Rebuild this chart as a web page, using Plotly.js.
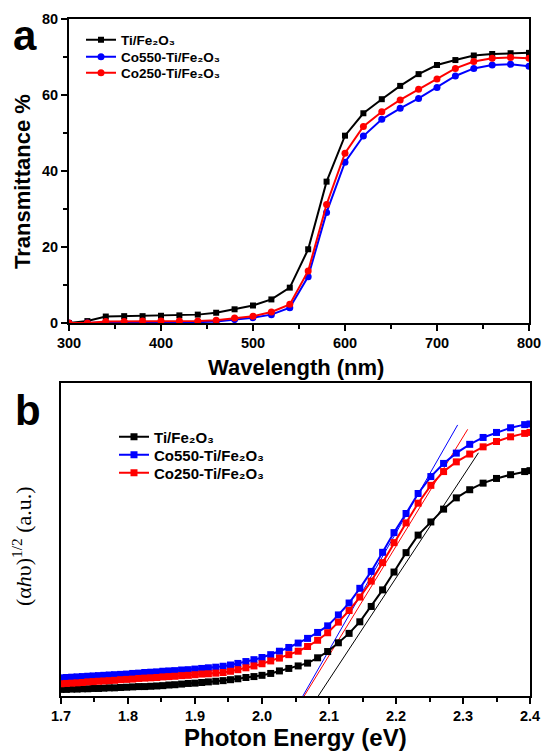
<!DOCTYPE html>
<html><head><meta charset="utf-8">
<script src="https://cdn.plot.ly/plotly-3.0.1.min.js"></script>
<style>html,body{margin:0;padding:0;background:#fff}#c{width:544px;height:752px}</style>
</head><body><div id="c"></div>
<script>
// Panel a: transmittance spectra
const wavelength = [300,320,340,360,380,400,420,440,460,480,500,520,540,560,580,600,620,640,660,680,700,720,740,760,780,800];
const transTi    = [0,0.5,1.7,1.8,1.8,1.9,2.0,2.2,2.7,3.6,4.6,6.2,9.3,19.4,37.2,49.3,55.2,58.9,62.4,65.5,67.9,69.2,70.4,70.8,71.0,71.1];
const transCo550 = [0,0,0.2,0.2,0.2,0.2,0.2,0.2,0.4,0.9,1.4,2.2,4.0,12.2,29.1,42.3,49.2,53.6,56.5,59.1,62.0,65.0,67.0,67.9,68.1,67.6];
const transCo250 = [0,0,0.4,0.4,0.5,0.5,0.5,0.5,0.7,1.3,1.8,2.9,4.9,13.7,31.2,44.7,51.7,55.6,58.7,61.5,64.2,67.0,68.8,69.7,69.9,69.7];

// Panel b: Tauc plot
const energy = [1.700,1.708,1.716,1.724,1.732,1.740,1.748,1.756,1.764,1.772,1.780,1.789,1.798,1.807,1.816,1.825,1.834,1.843,1.852,1.861,1.870,1.880,1.890,1.900,1.910,1.920,1.931,1.942,1.953,1.964,1.976,1.988,2.000,2.013,2.026,2.040,2.054,2.068,2.083,2.098,2.114,2.130,2.146,2.163,2.180,2.197,2.215,2.233,2.252,2.271,2.290,2.310,2.330,2.350,2.371,2.392,2.400];
const taucTi = [2.1,2.1,2.2,2.2,2.3,2.3,2.4,2.4,2.5,2.6,2.6,2.7,2.8,2.9,3.0,3.0,3.1,3.2,3.3,3.5,3.6,3.8,4.0,4.1,4.3,4.5,4.7,4.9,5.2,5.5,5.9,6.2,6.6,7.2,8.0,8.8,9.6,10.5,12.2,14.2,17.0,20.0,23.7,28.6,33.9,39.6,45.8,51.4,55.6,59.7,63.3,65.9,68.0,69.5,70.7,71.7,72.0];
const taucCo550 = [5.8,5.9,6.0,6.1,6.2,6.3,6.4,6.5,6.6,6.7,6.8,6.9,7.0,7.2,7.3,7.5,7.6,7.7,7.9,8.0,8.1,8.3,8.4,8.6,8.8,9.0,9.2,9.5,9.9,10.4,11.0,11.6,12.3,13.2,14.3,15.5,16.9,18.4,20.3,22.4,25.9,29.7,34.4,39.8,45.9,52.2,58.3,64.7,70.1,74.3,77.6,80.4,82.6,84.2,85.7,86.7,86.9];
const taucCo250 = [3.9,4.0,4.1,4.2,4.3,4.5,4.6,4.7,4.8,4.9,5.0,5.2,5.3,5.4,5.6,5.7,5.8,5.9,6.1,6.2,6.3,6.5,6.6,6.8,7.0,7.1,7.3,7.5,7.9,8.4,9.0,9.6,10.3,11.2,12.1,13.2,14.3,15.8,17.8,20.2,23.6,27.3,31.6,36.7,42.6,49.0,55.3,61.6,67.3,71.7,74.8,77.3,79.6,81.3,82.8,83.9,84.2];
// Tangent (band-gap extrapolation) lines: endpoints
const fitTiX = [2.084,2.323],    fitTiY = [0,77.7];
const fitCo550X = [2.061,2.292], fitCo550Y = [0,86.6];
const fitCo250X = [2.063,2.307], fitCo250Y = [0,85.2];

const names = ['Ti/Fe₂O₃','Co550-Ti/Fe₂O₃','Co250-Ti/Fe₂O₃'];
const BLACK='#000000', BLUE='#0000ff', RED='#ff0000';
const F = 'Arial, "Liberation Sans", sans-serif';

const traces = [
  {x:wavelength,y:transTi,name:names[0],mode:'lines+markers',line:{color:BLACK,width:2},marker:{symbol:'square',size:6,color:BLACK},xaxis:'x',yaxis:'y',legend:'legend'},
  {x:wavelength,y:transCo550,name:names[1],mode:'lines+markers',line:{color:BLUE,width:2},marker:{symbol:'circle',size:7,color:BLUE},xaxis:'x',yaxis:'y',legend:'legend2'},
  {x:wavelength,y:transCo250,name:names[2],mode:'lines+markers',line:{color:RED,width:2},marker:{symbol:'circle',size:7,color:RED},xaxis:'x',yaxis:'y',legend:'legend3'},
  {x:fitTiX,y:fitTiY,mode:'lines',line:{color:BLACK,width:1},showlegend:false,xaxis:'x2',yaxis:'y2'},
  {x:fitCo550X,y:fitCo550Y,mode:'lines',line:{color:BLUE,width:1},showlegend:false,xaxis:'x2',yaxis:'y2'},
  {x:fitCo250X,y:fitCo250Y,mode:'lines',line:{color:RED,width:1},showlegend:false,xaxis:'x2',yaxis:'y2'},
  {x:energy,y:taucTi,name:names[0],mode:'lines+markers',line:{color:BLACK,width:2},marker:{symbol:'square',size:7,color:BLACK},xaxis:'x2',yaxis:'y2',legend:'legend4'},
  {x:energy,y:taucCo550,name:names[1],mode:'lines+markers',line:{color:BLUE,width:2},marker:{symbol:'square',size:7,color:BLUE},xaxis:'x2',yaxis:'y2',legend:'legend5'},
  {x:energy,y:taucCo250,name:names[2],mode:'lines+markers',line:{color:RED,width:2},marker:{symbol:'square',size:7,color:RED},xaxis:'x2',yaxis:'y2',legend:'legend6'}
];

const axBase = {showline:true,linecolor:BLACK,linewidth:2,mirror:true,showgrid:false,zeroline:false,
  ticks:'outside',ticklen:6,tickwidth:2,tickcolor:BLACK,tickfont:{family:F,size:14.5,weight:'bold',color:BLACK}};

function leg(xpx, ypx, size){
  return {x:xpx/544,y:1-ypx/752,xanchor:'left',yanchor:'middle',bgcolor:'rgba(0,0,0,0)',itemwidth:30,
    font:{family:F,size:size,weight:'bold',color:BLACK}};
}

const layout = {
  width:544,height:752,margin:{l:0,r:0,t:0,b:0},paper_bgcolor:'#fff',plot_bgcolor:'#fff',
  showlegend:true,
  xaxis:Object.assign({},axBase,{domain:[0.1268,0.9724],range:[300,800],dtick:100,anchor:'y',
    minor:{ticks:'outside',ticklen:4,tickwidth:2,dtick:50,tickcolor:BLACK}}),
  yaxis:Object.assign({},axBase,{domain:[0.5705,0.9747],range:[0,80],dtick:20,anchor:'x',
    minor:{ticks:'outside',ticklen:4,tickwidth:2,dtick:10,tickcolor:BLACK}}),
  xaxis2:Object.assign({},axBase,{domain:[0.1121,0.9743],range:[1.7,2.4],dtick:0.1,tickformat:'.1f',anchor:'y2',
    minor:{ticks:'outside',ticklen:4,tickwidth:2,dtick:0.05,tickcolor:BLACK}}),
  yaxis2:Object.assign({},axBase,{domain:[0.0745,0.4907],range:[0,100],anchor:'x2',ticks:'',showticklabels:false}),
  legend:leg(81,40,13.5),
  legend2:leg(81,57,13.5),
  legend3:leg(81,73,13.5),
  legend4:leg(114,437,15),
  legend5:leg(114,455,15),
  legend6:leg(114,473,15),
  annotations:[
    {text:'a',xref:'paper',yref:'paper',x:25/544,y:1-36/752,showarrow:false,xanchor:'center',yanchor:'middle',font:{family:F,size:42,weight:'bold',color:BLACK}},
    {text:'b',xref:'paper',yref:'paper',x:28/544,y:1-410/752,showarrow:false,xanchor:'center',yanchor:'middle',font:{family:F,size:42,weight:'bold',color:BLACK}},
    {text:'Wavelength (nm)',xref:'paper',yref:'paper',x:0.545,y:1-368/752,showarrow:false,xanchor:'center',yanchor:'middle',font:{family:F,size:22,weight:'bold',color:BLACK}},
    {text:'Transmittance %',xref:'paper',yref:'paper',x:22/544,y:1-182/752,showarrow:false,textangle:-90,xanchor:'center',yanchor:'middle',font:{family:F,size:22,weight:'bold',color:BLACK}},
    {text:'Photon Energy (eV)',xref:'paper',yref:'paper',x:0.543,y:1-737/752,showarrow:false,xanchor:'center',yanchor:'middle',font:{family:F,size:24,weight:'bold',color:BLACK}},
    {text:'(α<i>h</i>υ)<sup>1/2</sup> (a.u.)',xref:'paper',yref:'paper',x:22/544,y:1-546/752,showarrow:false,textangle:-90,xanchor:'center',yanchor:'middle',font:{family:'"Liberation Serif", "Times New Roman", serif',size:22,color:BLACK}}
  ]
};
Plotly.newPlot('c',traces,layout,{staticPlot:true,displayModeBar:false});
</script></body></html>
